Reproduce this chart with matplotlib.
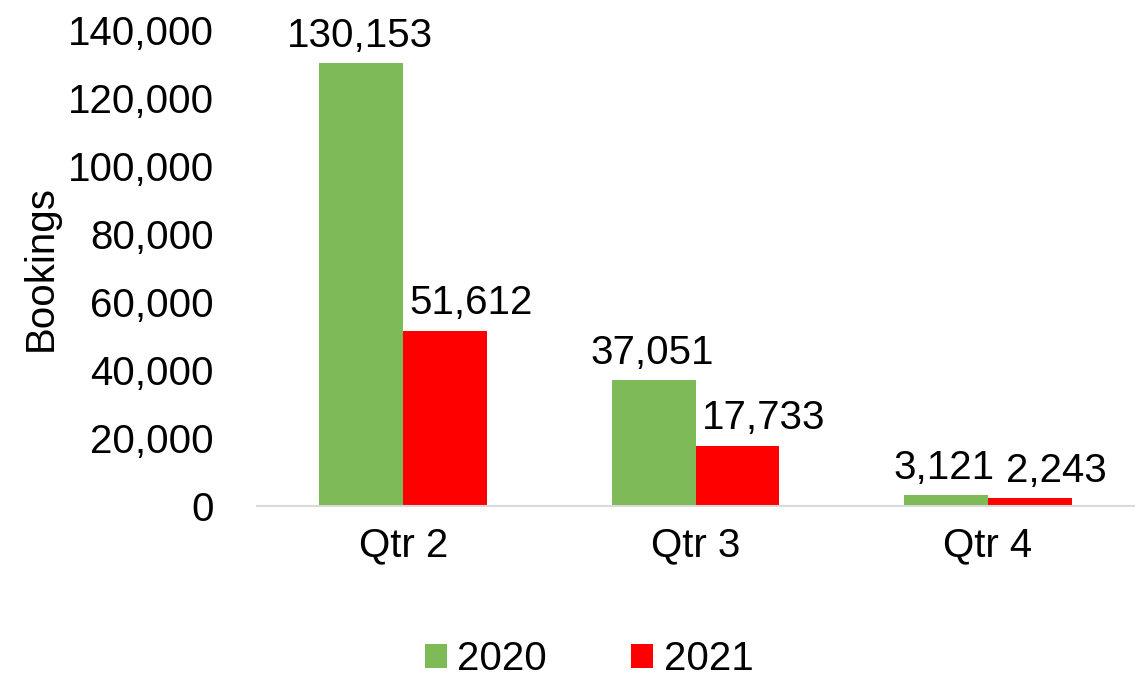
import matplotlib.pyplot as plt
import numpy as np

plt.rcParams['font.family'] = ['Liberation Sans', 'DejaVu Sans']

quarters = ['Qtr 2', 'Qtr 3', 'Qtr 4']
bookings_2020 = [130153, 37051, 3121]
bookings_2021 = [51612, 17733, 2243]

green = '#7EBA57'
red = '#FF0000'

fig = plt.figure(figsize=(11.44, 6.76), dpi=100)
ax = fig.add_axes([257 / 1144, 1 - 506 / 676, (1134 - 257) / 1144, (506 - 30) / 676])

x = np.arange(len(quarters))
w = 0.287
b1 = ax.bar(x - w / 2, bookings_2020, w, color=green, label='2020')
b2 = ax.bar(x + w / 2, bookings_2021, w, color=red, label='2021')

# red labels sit a bit to the right, as in the original
for bars, dx in ((b1, -1), (b2, 19)):
    for rect in bars:
        v = rect.get_height()
        ax.annotate(f'{v:,}', (rect.get_x() + rect.get_width() / 2, v),
                    xytext=(dx, 6), textcoords='offset points',
                    ha='center', va='bottom', fontsize=29)

ax.set_xlim(-0.5, 2.5)
ax.set_ylim(0, 140000)
ax.set_yticks(range(0, 140001, 20000))
ax.set_yticklabels([f'{t:,}' for t in range(0, 140001, 20000)])
ax.set_xticks(x)
ax.set_xticklabels(quarters)
ax.tick_params(axis='y', length=0, labelsize=29, pad=31)
ax.tick_params(axis='x', length=0, labelsize=29, pad=15)

for s in ['top', 'right', 'left']:
    ax.spines[s].set_visible(False)
ax.spines['bottom'].set_color('#D9D9D9')
ax.spines['bottom'].set_linewidth(1.5)

ax.set_ylabel('Bookings', fontsize=29)
ax.yaxis.set_label_coords(-197 / 877, 0.5)

fig.legend(loc='center', bbox_to_anchor=(589 / 1144, 1 - 659 / 676), ncol=2, frameon=False,
           fontsize=29, handlelength=0.55, handleheight=0.55, handletextpad=0.25,
           columnspacing=2.1)

fig.savefig('out.png', dpi=100)
